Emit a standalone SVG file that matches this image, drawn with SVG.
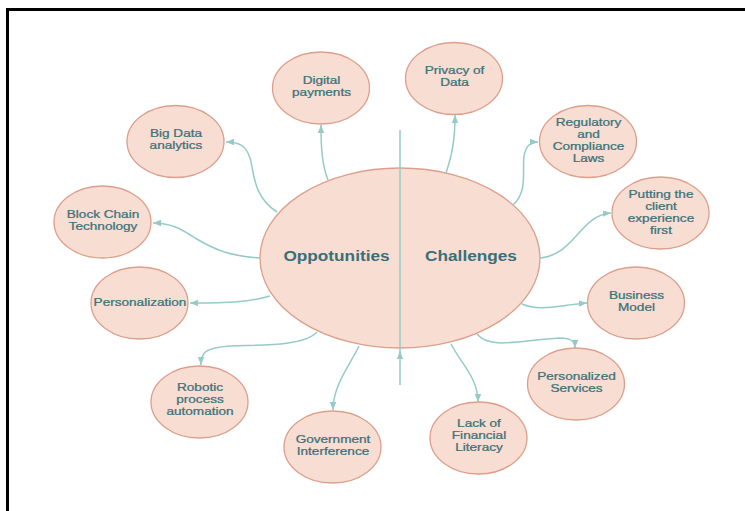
<svg xmlns="http://www.w3.org/2000/svg" width="745" height="511" viewBox="0 0 745 511">
  <defs>
    <style>
      .node { fill: #f8ddd3; stroke: #dc9f8b; stroke-width: 1.3; }
      .label { font-family: "Liberation Sans", Arial, sans-serif; font-size: 10.3px; fill: #3d7279; stroke: #3d7279; stroke-width: 0.25; text-anchor: middle; }
      .title { font-family: "Liberation Sans", Arial, sans-serif; font-size: 14px; font-weight: bold; fill: #3a6f77; text-anchor: middle; }
      .link { fill: none; stroke: #95cbc6; stroke-width: 1.5; }
    </style>
    <marker id="arrow" viewBox="0 0 10 10" refX="10" refY="5" markerWidth="8" markerHeight="8" markerUnits="userSpaceOnUse" orient="auto">
      <path d="M0,1 L10,5 L0,9 z" fill="#95cbc6"/>
    </marker>
  </defs>

  <rect width="745" height="511" fill="#ffffff"/>
  <!-- page frame -->
  <rect x="7.5" y="9.5" width="760" height="530" fill="none" stroke="#000000" stroke-width="3"/>

  <!-- central hub -->
  <g id="hub">
    <ellipse class="node" cx="400" cy="258" rx="140" ry="90"/>
    <text class="title" transform="translate(336.5 261) scale(1.23 1)">Oppotunities</text>
    <text class="title" transform="translate(471 261) scale(1.23 1)">Challenges</text>
  </g>

  <!-- connectors -->
  <g id="connectors">
    <path class="link" d="M400 385 L400 351 L400 130" marker-mid="url(#arrow)"/>
    <!-- opportunities -->
    <path class="link" d="M328 180 C322 165 321 148 321 125" marker-end="url(#arrow)"/>
    <path class="link" d="M277 212 C252 196 254 170 250 158 C246 146 240 142 226 142" marker-end="url(#arrow)"/>
    <path class="link" d="M260 258 C230 256 215 250 195 238 C180 228 170 223 153 223" marker-end="url(#arrow)"/>
    <path class="link" d="M270 296 C250 302 230 303 190 303" marker-end="url(#arrow)"/>
    <path class="link" d="M317 332 C305 345 270 345 230 346 C205 348 201 352 201 365" marker-end="url(#arrow)"/>
    <path class="link" d="M359 346 C350 365 333 385 333 410" marker-end="url(#arrow)"/>
    <!-- challenges -->
    <path class="link" d="M446 173 C452 155 455 140 455 115" marker-end="url(#arrow)"/>
    <path class="link" d="M513 205 C528 192 522 170 524 156 C526 146 530 142 538 142" marker-end="url(#arrow)"/>
    <path class="link" d="M540 258 C575 255 580 215 611 213" marker-end="url(#arrow)"/>
    <path class="link" d="M522 304 C540 312 560 305 587 303" marker-end="url(#arrow)"/>
    <path class="link" d="M477 334 C490 350 520 340 560 338 C572 338 575 342 575 348" marker-end="url(#arrow)"/>
    <path class="link" d="M451 344 C462 365 478 378 478 402" marker-end="url(#arrow)"/>
  </g>

  <!-- opportunity nodes: labels are drawn in a widened local frame -->
  <g id="digital-payments">
    <ellipse class="node" cx="321" cy="88" rx="48.5" ry="36"/>
    <g transform="translate(321.5 88) scale(1.32 1)">
      <text class="label" y="-4.5">Digital</text>
      <text class="label" y="7.5">payments</text>
    </g>
  </g>
  <g id="big-data-analytics">
    <ellipse class="node" cx="175.5" cy="141.5" rx="48.5" ry="36"/>
    <g transform="translate(176 141.5) scale(1.32 1)">
      <text class="label" y="-4.5">Big Data</text>
      <text class="label" y="7.5">analytics</text>
    </g>
  </g>
  <g id="block-chain">
    <ellipse class="node" cx="102.5" cy="222" rx="48.5" ry="36"/>
    <g transform="translate(103 222) scale(1.32 1)">
      <text class="label" y="-4.5">Block Chain</text>
      <text class="label" y="7.5">Technology</text>
    </g>
  </g>
  <g id="personalization">
    <ellipse class="node" cx="139.5" cy="303" rx="48.5" ry="36"/>
    <g transform="translate(140 303) scale(1.32 1)">
      <text class="label" y="3">Personalization</text>
    </g>
  </g>
  <g id="robotic-process-automation">
    <ellipse class="node" cx="199.5" cy="402" rx="48.5" ry="36"/>
    <g transform="translate(200 402) scale(1.32 1)">
      <text class="label" y="-11">Robotic</text>
      <text class="label" y="1">process</text>
      <text class="label" y="13">automation</text>
    </g>
  </g>
  <g id="government-interference">
    <ellipse class="node" cx="332.5" cy="447" rx="48.5" ry="36"/>
    <g transform="translate(333 447) scale(1.32 1)">
      <text class="label" y="-4.5">Government</text>
      <text class="label" y="7.5">Interference</text>
    </g>
  </g>

  <!-- challenge nodes -->
  <g id="privacy-of-data">
    <ellipse class="node" cx="454" cy="78.5" rx="48.5" ry="36"/>
    <g transform="translate(454.5 78.5) scale(1.32 1)">
      <text class="label" y="-4.5">Privacy of</text>
      <text class="label" y="7.5">Data</text>
    </g>
  </g>
  <g id="regulatory-compliance">
    <ellipse class="node" cx="588" cy="141.5" rx="48.5" ry="36"/>
    <g transform="translate(588.5 141.5) scale(1.32 1)">
      <text class="label" y="-15.5">Regulatory</text>
      <text class="label" y="-3.5">and</text>
      <text class="label" y="8.5">Compliance</text>
      <text class="label" y="20.5">Laws</text>
    </g>
  </g>
  <g id="client-experience">
    <ellipse class="node" cx="660.5" cy="213" rx="48.5" ry="36"/>
    <g transform="translate(661 213) scale(1.32 1)">
      <text class="label" y="-15">Putting the</text>
      <text class="label" y="-3">client</text>
      <text class="label" y="9">experience</text>
      <text class="label" y="21">first</text>
    </g>
  </g>
  <g id="business-model">
    <ellipse class="node" cx="636" cy="303" rx="48.5" ry="36"/>
    <g transform="translate(636.5 303) scale(1.32 1)">
      <text class="label" y="-4.5">Business</text>
      <text class="label" y="7.5">Model</text>
    </g>
  </g>
  <g id="personalized-services">
    <ellipse class="node" cx="576" cy="384" rx="48.5" ry="36"/>
    <g transform="translate(576.5 384) scale(1.32 1)">
      <text class="label" y="-4.5">Personalized</text>
      <text class="label" y="7.5">Services</text>
    </g>
  </g>
  <g id="financial-literacy">
    <ellipse class="node" cx="478.5" cy="438" rx="48.5" ry="36"/>
    <g transform="translate(479 438) scale(1.32 1)">
      <text class="label" y="-11">Lack of</text>
      <text class="label" y="1">Financial</text>
      <text class="label" y="13">Literacy</text>
    </g>
  </g>
</svg>
